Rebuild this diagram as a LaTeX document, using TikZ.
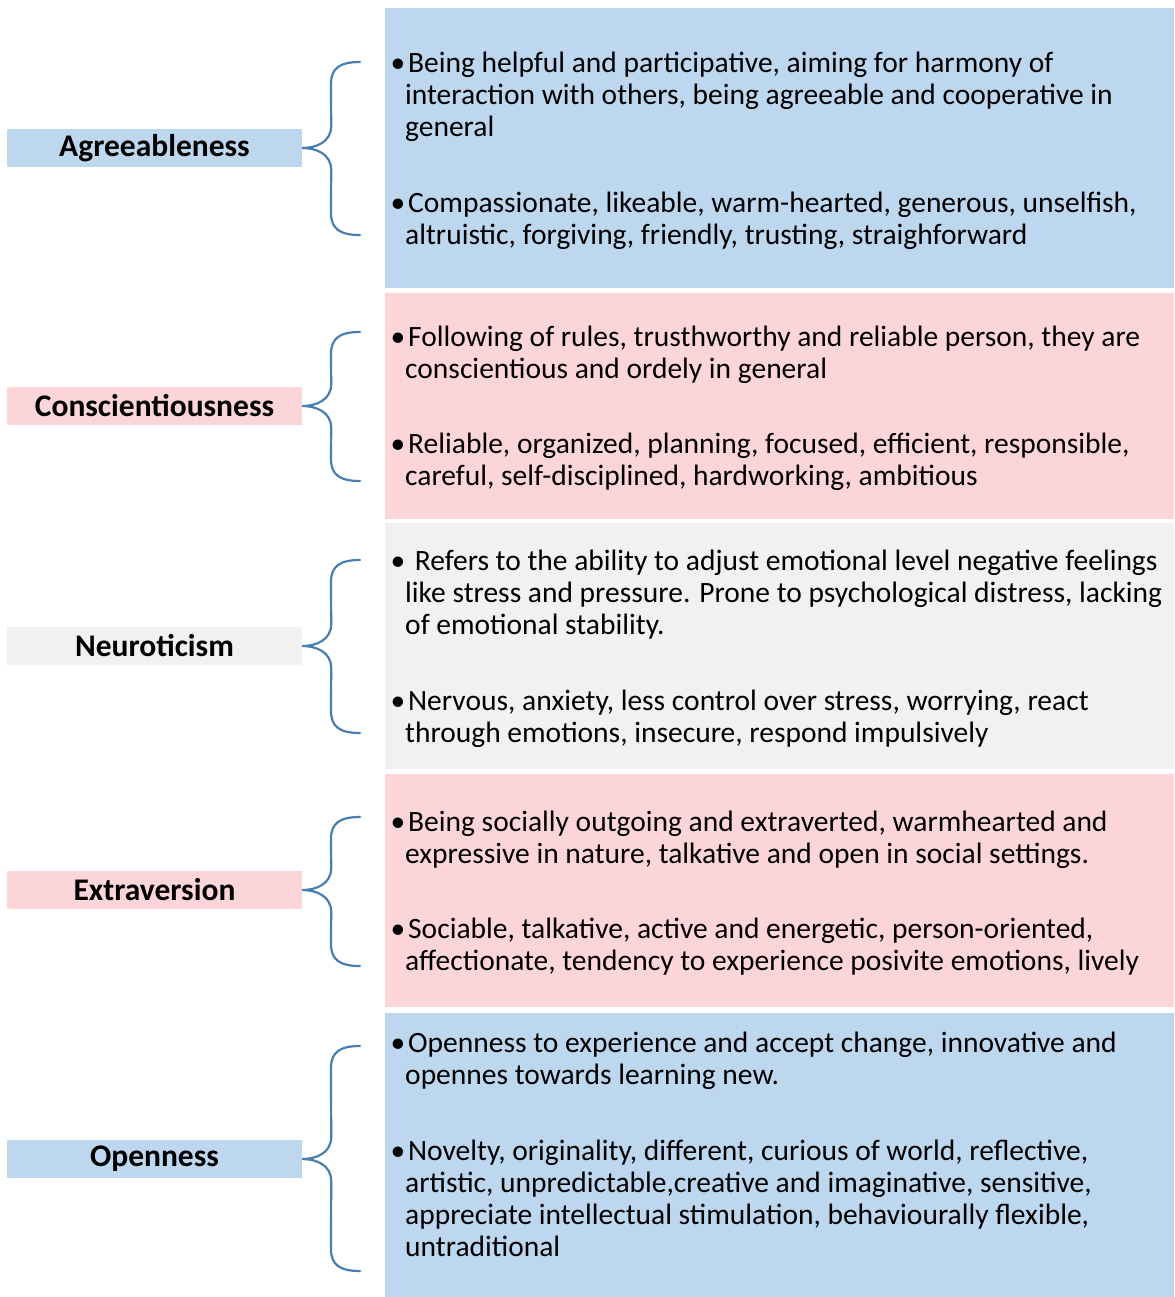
\documentclass[tikz,border=0pt]{standalone}
\usepackage{fontspec}
\setmainfont{Carlito}
\usetikzlibrary{calc}
\definecolor{panelblue}{HTML}{BDD7EE}
\definecolor{panelpink}{HTML}{FCD5D9}
\definecolor{panelgray}{HTML}{F1F1F1}
\definecolor{bracecol}{HTML}{4A7EB0}
\tikzset{
  panel/.style={fill=#1, draw=none},
  label/.style={fill=#1, draw=none, minimum width=295pt, minimum height=38pt,
    inner sep=0pt, font=\fontsize{31.5}{34}\selectfont\bfseries},
  para/.style={anchor=north west, align=left, inner sep=0pt,
    font=\fontsize{29.5}{32}\selectfont},
  brace/.style={draw=bracecol, line width=2.2pt, line cap=round}
}
% hanging bullet in front of the first line
\newcommand{\bul}{\llap{•}\hspace{3pt}}
% curly brace from a label's east side to two free end points
\newcommand{\trait}[3]{%
  \coordinate (#1-top) at (360,#2);
  \coordinate (#1-bot) at (360,#3);
  \draw[brace] (#1-top) .. controls (340,#2) and (331,#2+6) .. (331,#2+22)
    -- ($(#1.east)+(29,-22)$) .. controls ($(#1.east)+(29,-6)$) and ($(#1.east)+(14,0)$) .. (#1.east)
    .. controls ($(#1.east)+(14,0)$) and ($(#1.east)+(29,6)$) .. ($(#1.east)+(29,22)$)
    -- (331,#3-22) .. controls (331,#3-6) and (340,#3) .. (#1-bot);
}
\begin{document}
\begin{tikzpicture}[x=1pt,y=-1pt]
\useasboundingbox (0,0) rectangle (1174,1297);

% description panels
\fill[panel=panelblue] (385,8) rectangle (1174,288);
\fill[panel=panelpink] (385,293) rectangle (1174,519);
\fill[panel=panelgray] (385,523) rectangle (1174,769);
\fill[panel=panelpink] (385,774) rectangle (1174,1007);
\fill[panel=panelblue] (385,1013) rectangle (1174,1297);

% trait labels
\node[label=panelblue] (agr) at (154.5,148) {Agreeableness};
\node[label=panelpink] (con) at (154.5,406) {Conscientiousness};
\node[label=panelgray] (neu) at (154.5,646) {Neuroticism};
\node[label=panelpink] (ext) at (154.5,890) {Extraversion};
\node[label=panelblue] (ope) at (154.5,1159) {Openness};

% braces
\trait{agr}{62}{235}
\trait{con}{332}{481}
\trait{neu}{560}{733}
\trait{ext}{817}{966}
\trait{ope}{1046}{1271}

% descriptions (node top = first baseline - 20)
\begin{scope}[every node/.append style={yshift=20pt}]
\node[para] (agr1) at (405,72) {\bul Being helpful and participative, aiming for harmony of\\
interaction with others, being agreeable and cooperative in\\
general};
\node[para] (agr2) at (405,212) {\bul Compassionate, likeable, warm-hearted, generous, unselfish,\\
altruistic, forgiving, friendly, trusting, straighforward};

\node[para] (con1) at (405,346) {\bul Following of rules, trusthworthy and reliable person, they are\\
conscientious and ordely in general};
\node[para] (con2) at (405,453) {\bul Reliable, organized, planning, focused, efficient, responsible,\\
careful, self-disciplined, hardworking, ambitious};

\node[para] (neu1) at (405,570) {\bul\ Refers to the ability to adjust emotional level negative feelings\\
like stress and pressure. Prone to psychological distress, lacking\\
of emotional stability.};
\node[para] (neu2) at (405,710) {\bul Nervous, anxiety, less control over stress, worrying, react\\
through emotions, insecure, respond impulsively};

\node[para] (ext1) at (405,831) {\bul Being socially outgoing and extraverted, warmhearted and\\
expressive in nature, talkative and open in social settings.};
\node[para] (ext2) at (405,938) {\bul Sociable, talkative, active and energetic, person-oriented,\\
affectionate, tendency to experience posivite emotions, lively};

\node[para] (ope1) at (405,1052) {\bul Openness to experience and accept change, innovative and\\
opennes towards learning new.};
\node[para] (ope2) at (405,1160) {\bul Novelty, originality, different, curious of world, reflective,\\
artistic, unpredictable,creative and imaginative, sensitive,\\
appreciate intellectual stimulation, behaviourally flexible,\\
untraditional};
\end{scope}
\end{tikzpicture}
\end{document}
